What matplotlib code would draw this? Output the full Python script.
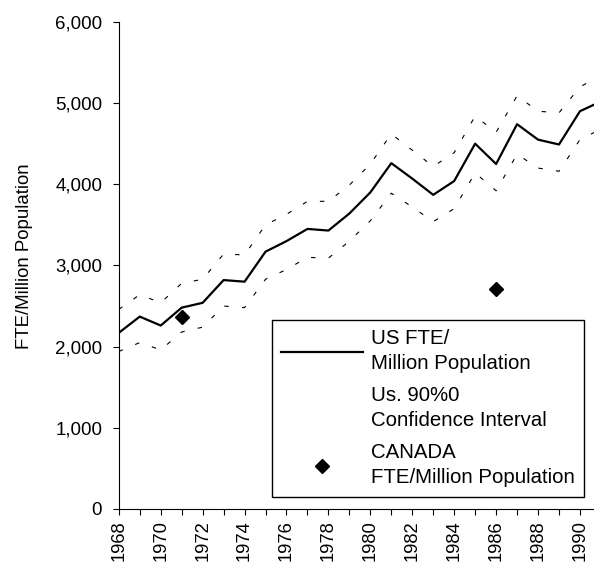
import matplotlib.pyplot as plt
from matplotlib.lines import Line2D

plt.rcParams['font.family'] = ['Liberation Sans', 'DejaVu Sans']

# US FTE per million population
years = [1968, 1969, 1970, 1971, 1972, 1973, 1974, 1975, 1976, 1977, 1978, 1979,
         1980, 1981, 1982, 1983, 1984, 1985, 1986, 1987, 1988, 1989, 1990, 1991]
us_fte = [2170, 2370, 2260, 2480, 2540, 2820, 2800, 3170, 3300, 3450, 3430, 3640,
          3900, 4260, 4070, 3870, 4040, 4500, 4250, 4740, 4550, 4490, 4900, 5020]
ci_upper = [2460, 2640, 2540, 2780, 2830, 3140, 3130, 3500, 3630, 3790, 3790, 3990,
            4250, 4620, 4420, 4220, 4390, 4840, 4640, 5090, 4900, 4880, 5200, 5340]
ci_lower = [1940, 2050, 1960, 2180, 2240, 2500, 2480, 2830, 2950, 3100, 3090, 3300,
            3550, 3890, 3720, 3540, 3700, 4140, 3920, 4370, 4200, 4160, 4550, 4680]

# Canada
canada_years = [1971, 1986]
canada_fte = [2360, 2710]

yticks = [0, 1000, 2000, 3000, 4000, 5000, 6000]
ytick_labels = ["0", "1,000", "2,000", "3,000", "4,000", "5,000", "6,000"]
xticks = list(range(1968, 1991))
xtick_labels = [str(y) if y % 2 == 0 else "" for y in xticks]

fig = plt.figure(figsize=(5.94, 5.71), dpi=100)
ax = fig.add_axes([0.200, 0.1086, 0.800, 0.853])

ax.plot(years, us_fte, color="black", lw=1.6)
ax.plot(years, ci_upper, color="black", lw=0.8, dashes=(4, 12))
ax.plot(years, ci_lower, color="black", lw=0.8, dashes=(4, 12))
ax.plot(canada_years, canada_fte, linestyle="none", marker="D", ms=7.5,
        color="black")

ax.set_xlim(1968, 1990.67)
ax.set_ylim(0, 6000)
ax.set_yticks(yticks)
ax.set_yticklabels(ytick_labels, fontsize=13.5)
ax.set_xticks(xticks)
ax.set_xticklabels(xtick_labels, rotation=90, fontsize=13.2)
ax.tick_params(axis="both", direction="out", length=4, width=0.8)
ax.tick_params(axis="y", pad=8)
ax.tick_params(axis="x", pad=4)
ax.set_ylabel("FTE/Million Population", fontsize=13.4)
ax.yaxis.set_label_coords(-0.18, 0.52)

for side in ["top", "right"]:
    ax.spines[side].set_visible(False)
for side in ["left", "bottom"]:
    ax.spines[side].set_linewidth(0.8)

handles = [
    Line2D([], [], color="black", lw=1.6),
    Line2D([], [], color="none"),
    Line2D([], [], linestyle="none", marker="D", ms=7.5, color="black"),
]
labels = ["US FTE/\nMillion Population",
          "Us. 90%0\nConfidence Interval",
          "CANADA\nFTE/Million Population"]
leg = fig.legend(handles, labels, loc="upper left",
                 bbox_to_anchor=(272 / 594, 1 - 320 / 571),
                 fontsize=14.7, frameon=True, fancybox=False, framealpha=1,
                 edgecolor="black", handlelength=4.0, handletextpad=0.4,
                 labelspacing=0.62, borderpad=0.45, borderaxespad=0)
leg.get_frame().set_linewidth(1.0)
for t in leg.get_texts():
    t.set_linespacing(1.42)

plt.savefig("out.png", dpi=100)
plt.close()
